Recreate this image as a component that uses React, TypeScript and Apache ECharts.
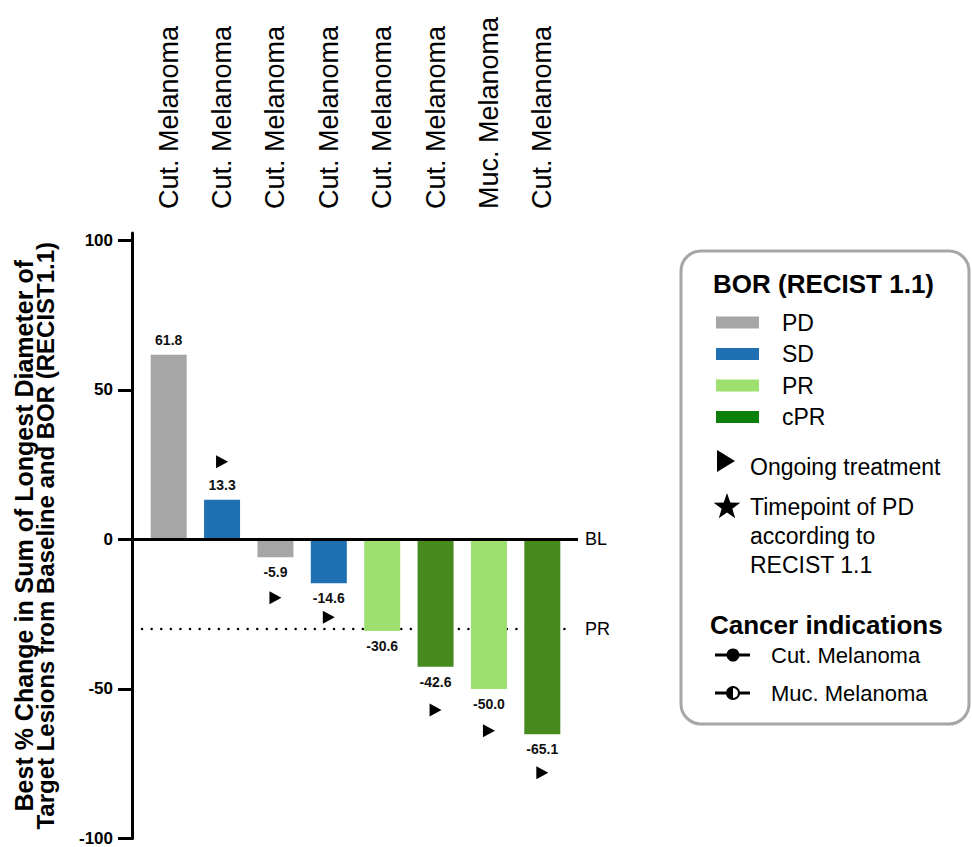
import React, { useEffect, useRef } from "react";
import * as echarts from "echarts";

const patients = [
  "Cut. Melanoma",
  "Cut. Melanoma",
  "Cut. Melanoma",
  "Cut. Melanoma",
  "Cut. Melanoma",
  "Cut. Melanoma",
  "Muc. Melanoma",
  "Cut. Melanoma",
];
const changes = [61.8, 13.3, -5.9, -14.6, -30.6, -42.6, -50.0, -65.1];
const bor = ["PD", "SD", "PD", "SD", "PR", "cPR", "PR", "cPR"];
const ongoingMarker: (number | null)[] = [null, 26, -19.5, -26, null, -57, -64, -78];
const borLevels = ["PD", "SD", "PR", "cPR"];
const barColors: Record<string, string> = {
  PD: "#a6a6a6",
  SD: "#1f70b3",
  PR: "#9de06f",
  cPR: "#478a1e",
};
const legendColors: Record<string, string> = {
  PD: "#a6a6a6",
  SD: "#1f70b3",
  PR: "#9de06f",
  cPR: "#0a7f0a",
};
const yTicks = [-100, -50, 0, 50, 100];
const baselineValue = 0;
const prThreshold = -30;
const indications = ["Cut. Melanoma", "Muc. Melanoma"];
const yTitleLines = [
  "Best % Change in Sum of Longest Diameter of",
  "Target Lesions from Baseline and BOR (RECIST1.1)",
];

const FONT = "'Liberation Sans', Arial, Helvetica, sans-serif";

function starPoints(cx: number, cy: number, R: number, r: number) {
  const pts: number[][] = [];
  for (let i = 0; i < 10; i++) {
    const a = -Math.PI / 2 + (i * Math.PI) / 5;
    const rad = i % 2 === 0 ? R : r;
    pts.push([cx + rad * Math.cos(a), cy + rad * Math.sin(a)]);
  }
  return pts;
}

function buildLegend() {
  const els: any[] = [];
  els.push({
    type: "rect",
    shape: { x: 681, y: 251, width: 288, height: 473, r: 20 },
    style: { fill: "#fff", stroke: "#a6a6a6", lineWidth: 3 },
    z: 10,
  });
  els.push({
    type: "text",
    x: 713,
    y: 284,
    style: { text: "BOR (RECIST 1.1)", fontSize: 26, fontWeight: "bold", fontFamily: FONT, fill: "#000", verticalAlign: "middle", align: "left" },
    z: 11,
  });
  borLevels.forEach((lvl, i) => {
    const cy = 322.5 + i * 31.5;
    els.push({
      type: "rect",
      shape: { x: 716, y: cy - 6, width: 43, height: 12 },
      style: { fill: legendColors[lvl] },
      z: 11,
    });
    els.push({
      type: "text",
      x: 782,
      y: cy,
      style: { text: lvl, fontSize: 23, fontFamily: FONT, fill: "#000", verticalAlign: "middle", align: "left" },
      z: 11,
    });
  });
  els.push({
    type: "polygon",
    shape: { points: [[717, 450], [735, 461], [717, 472]] },
    style: { fill: "#000" },
    z: 11,
  });
  els.push({
    type: "text",
    x: 750,
    y: 467,
    style: { text: "Ongoing treatment", fontSize: 23, fontFamily: FONT, fill: "#000", verticalAlign: "middle", align: "left" },
    z: 11,
  });
  els.push({
    type: "polygon",
    shape: { points: starPoints(727, 507, 14, 5.6) },
    style: { fill: "#000" },
    z: 11,
  });
  els.push({
    type: "text",
    x: 750,
    y: 492,
    style: { text: "Timepoint of PD\naccording to\nRECIST 1.1", fontSize: 23, lineHeight: 29, fontFamily: FONT, fill: "#000", verticalAlign: "top", align: "left" },
    z: 11,
  });
  els.push({
    type: "text",
    x: 710,
    y: 625,
    style: { text: "Cancer indications", fontSize: 26, fontWeight: "bold", fontFamily: FONT, fill: "#000", verticalAlign: "middle", align: "left" },
    z: 11,
  });
  indications.forEach((name, i) => {
    const cy = 655 + i * 38;
    els.push({
      type: "line",
      shape: { x1: 715, y1: cy, x2: 750, y2: cy },
      style: { stroke: "#000", lineWidth: 3 },
      z: 11,
    });
    if (i === 0) {
      els.push({
        type: "circle",
        shape: { cx: 733, cy, r: 6.5 },
        style: { fill: "#000" },
        z: 12,
      });
    } else {
      els.push({
        type: "circle",
        shape: { cx: 733, cy, r: 6 },
        style: { fill: "#fff", stroke: "#000", lineWidth: 2 },
        z: 12,
      });
      els.push({
        type: "sector",
        shape: { cx: 733, cy, r0: 0, r: 6, startAngle: Math.PI / 2, endAngle: (3 * Math.PI) / 2, clockwise: true },
        style: { fill: "#000" },
        z: 13,
      });
    }
    els.push({
      type: "text",
      x: 771,
      y: cy,
      style: { text: name, fontSize: 22, fontFamily: FONT, fill: "#000", verticalAlign: "middle", align: "left" },
      z: 11,
    });
  });
  return els;
}

export default function App() {
  const ref = useRef<HTMLDivElement>(null);

  useEffect(() => {
    if (!ref.current) return;
    const chart = echarts.init(ref.current, null, { renderer: "svg" });
    const option: any = {
      animation: false,
      backgroundColor: "#fff",
      textStyle: { fontFamily: FONT },
      grid: { left: 142, right: 403, top: 233, bottom: 5, containLabel: false },
      xAxis: {
        type: "category",
        data: patients,
        position: "top",
        axisLine: { show: false, onZero: false },
        axisTick: { show: false },
        axisLabel: {
          rotate: -90,
          fontSize: 27,
          color: "#000",
          fontFamily: FONT,
          margin: 24,
          interval: 0,
        },
        splitLine: { show: false },
      },
      yAxis: {
        type: "value",
        min: -100,
        max: 102.5,
        interval: 50,
        offset: 10,
        name: `{a|${yTitleLines[0]}}\n{b|${yTitleLines[1]}}`,
        nameLocation: "middle",
        nameGap: 76,
        nameTextStyle: {
          fontWeight: "bold",
          color: "#000",
          fontFamily: FONT,
          rich: {
            a: { fontSize: 25, fontWeight: "bold", color: "#000", fontFamily: FONT, lineHeight: 21.5 },
            b: { fontSize: 24, fontWeight: "bold", color: "#000", fontFamily: FONT, lineHeight: 21.5 },
          },
        },
        axisLine: { show: true, lineStyle: { color: "#000", width: 3 } },
        axisTick: { show: true, length: 14, lineStyle: { color: "#000", width: 3 }, customValues: yTicks },
        axisLabel: { fontSize: 17, fontWeight: "bold", color: "#000", margin: 19, fontFamily: FONT, customValues: yTicks },
        splitLine: { show: false },
      },
      series: [
        {
          type: "line",
          data: [],
          clip: false,
          z: 1,
          markLine: {
            silent: true,
            z: 1,
            symbol: ["none", "none"],
            animation: false,
            data: [
              {
                yAxis: prThreshold,
                lineStyle: { color: "#000", width: 2.4, type: [0.1, 9.5], cap: "round" },
                label: { show: true, position: "end", formatter: "PR", fontSize: 18, color: "#000", distance: 16, fontFamily: FONT },
              },
            ],
          },
        },
        {
          type: "bar",
          barWidth: 36,
          data: changes.map((v, i) => ({
            value: v,
            itemStyle: { color: barColors[bor[i]] },
            label: { position: v >= 0 ? "top" : "bottom" },
          })),
          label: {
            show: true,
            formatter: (p: any) => Number(p.value).toFixed(1),
            fontSize: 14,
            fontWeight: "bold",
            color: "#111",
            distance: 8,
            fontFamily: FONT,
          },
          z: 3,
        },
        {
          type: "scatter",
          data: ongoingMarker.map((v) => (v == null ? "-" : v)),
          symbol: "path://M0,0L12,6.5L0,13Z",
          symbolSize: [12, 13],
          itemStyle: { color: "#000", opacity: 1 },
          clip: false,
          z: 6,
        },
        {
          type: "line",
          data: [],
          clip: false,
          z: 5,
          markLine: {
            silent: true,
            z: 5,
            symbol: ["none", "none"],
            animation: false,
            data: [
              [
                {
                  x: 118,
                  yAxis: baselineValue,
                  lineStyle: { color: "#000", width: 3, type: "solid" },
                  label: { show: true, position: "end", formatter: "BL", fontSize: 18, color: "#000", distance: 7, fontFamily: FONT },
                },
                { x: 578, yAxis: baselineValue },
              ],
            ],
          },
        },
      ],
      graphic: { elements: buildLegend() },
    };
    chart.setOption(option);
    return () => chart.dispose();
  }, []);

  return (
    <div
      ref={ref}
      style={{ position: "fixed", left: 0, top: 0, width: 972, height: 847, background: "#fff" }}
    />
  );
}
